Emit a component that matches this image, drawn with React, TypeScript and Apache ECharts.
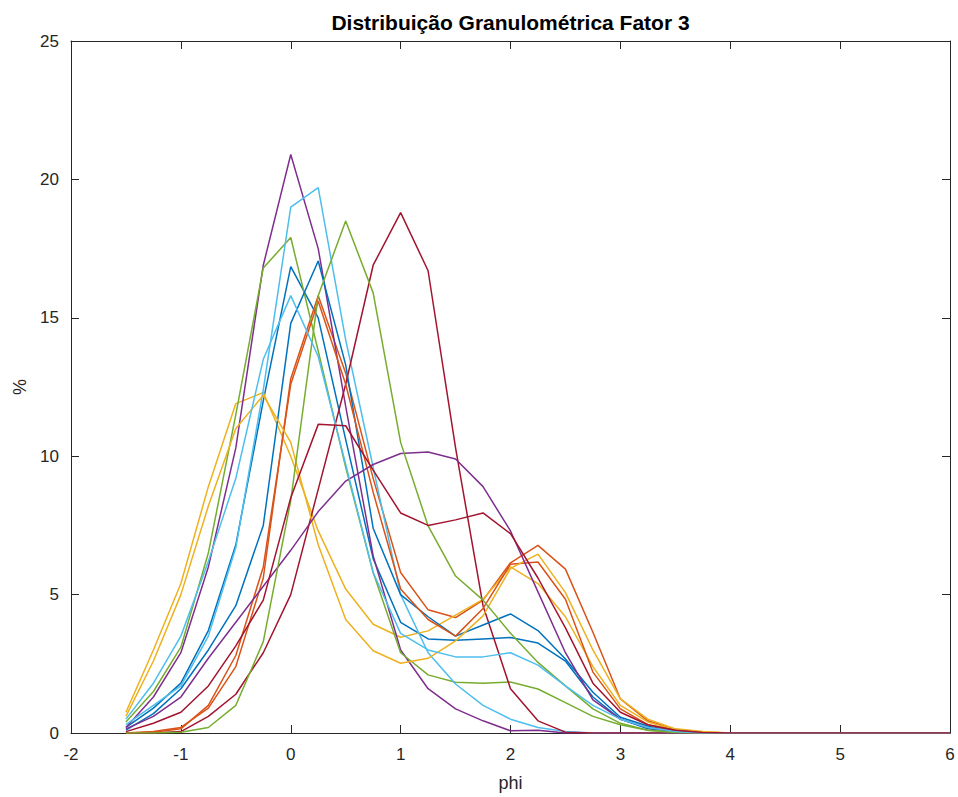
import React, { useEffect, useRef } from "react";
import * as echarts from "echarts";

// phi values of every sample point (-1.5 .. 6, step 0.25)
const phi = [
  -1.5, -1.25, -1, -0.75, -0.5, -0.25, 0, 0.25, 0.5, 0.75, 1, 1.25, 1.5, 1.75, 2, 2.25,
  2.5, 2.75, 3, 3.25, 3.5, 3.75, 4, 4.25, 4.5, 4.75, 5, 5.25, 5.5, 5.75, 6,
];

const xTicks = [-2, -1, 0, 1, 2, 3, 4, 5, 6];
const yTicks = [0, 5, 10, 15, 20, 25];

const s1 = [0.2, 0.9, 1.8, 3.7, 6.8, 12.0, 16.85, 15.0, 10.6, 6.3, 4.0, 3.4, 3.35, 3.4, 3.45, 3.25, 2.6, 1.3, 0.5, 0.15, 0.05, 0, 0, 0, 0, 0, 0, 0, 0, 0, 0];
const s2 = [0, 0.05, 0.2, 0.9, 2.4, 5.6, 12.8, 15.8, 13.0, 9.2, 5.8, 4.45, 4.17, 4.8, 6.15, 6.78, 5.92, 3.64, 1.23, 0.44, 0.13, 0.03, 0, 0, 0, 0, 0, 0, 0, 0, 0];
const s3 = [0.75, 3.0, 5.4, 8.9, 11.9, 12.3, 10.0, 7.3, 5.2, 3.93, 3.46, 3.69, 4.26, 4.83, 6.0, 5.4, 4.2, 2.4, 1.0, 0.4, 0.12, 0.03, 0, 0, 0, 0, 0, 0, 0, 0, 0];
const s4 = [0.2, 1.3, 2.9, 6.0, 10.3, 16.9, 20.9, 17.5, 11.8, 6.4, 3.0, 1.6, 0.87, 0.44, 0.08, 0.1, 0, 0, 0, 0, 0, 0, 0, 0, 0, 0, 0, 0, 0, 0, 0];
const s5 = [0.4, 1.5, 3.1, 6.5, 11.5, 16.8, 17.9, 13.8, 9.6, 5.8, 2.9, 2.1, 1.83, 1.8, 1.84, 1.59, 1.1, 0.6, 0.3, 0.1, 0.03, 0, 0, 0, 0, 0, 0, 0, 0, 0, 0];
const s6 = [0.3, 1.0, 1.7, 3.5, 6.7, 12.4, 19.0, 19.7, 14.2, 9.6, 5.0, 2.9, 1.77, 1.0, 0.5, 0.2, 0.05, 0, 0, 0, 0, 0, 0, 0, 0, 0, 0, 0, 0, 0, 0];
const s7 = [0, 0, 0.05, 0.6, 1.4, 2.9, 5.0, 8.8, 12.6, 16.9, 18.8, 16.7, 10.3, 4.6, 1.6, 0.44, 0.03, 0, 0, 0, 0, 0, 0, 0, 0, 0, 0, 0, 0, 0, 0];
const s8 = [0.1, 0.7, 1.6, 3.0, 4.6, 7.5, 14.8, 17.05, 13.3, 7.4, 5.0, 4.2, 3.5, 3.9, 4.3, 3.7, 2.67, 1.47, 0.57, 0.25, 0.1, 0.02, 0, 0, 0, 0, 0, 0, 0, 0, 0];
const s9 = [0, 0.03, 0.15, 1.0, 2.8, 6.0, 12.6, 15.6, 12.6, 8.7, 5.2, 4.1, 3.5, 4.5, 6.1, 6.18, 4.83, 2.2, 0.87, 0.3, 0.1, 0.02, 0, 0, 0, 0, 0, 0, 0, 0, 0];
const s10 = [0.6, 2.6, 5.0, 8.2, 11.0, 12.2, 10.5, 6.8, 4.1, 2.97, 2.52, 2.7, 3.33, 4.23, 5.95, 6.46, 5.07, 3.0, 1.23, 0.5, 0.15, 0.05, 0, 0, 0, 0, 0, 0, 0, 0, 0];
const s11 = [0.15, 0.6, 1.3, 2.7, 4.0, 5.3, 6.6, 8.0, 9.1, 9.7, 10.1, 10.15, 9.9, 8.9, 7.3, 5.1, 2.9, 1.2, 0.5, 0.2, 0.05, 0, 0, 0, 0, 0, 0, 0, 0, 0, 0];
const s12 = [0, 0, 0.03, 0.2, 1.0, 3.3, 8.4, 15.8, 18.5, 15.9, 10.5, 7.48, 5.67, 4.8, 3.6, 2.55, 1.7, 0.87, 0.35, 0.1, 0.02, 0, 0, 0, 0, 0, 0, 0, 0, 0, 0];
const s13 = [0.5, 1.8, 3.5, 6.2, 9.2, 13.5, 15.8, 13.6, 9.7, 5.8, 3.6, 3.0, 2.75, 2.75, 2.9, 2.45, 1.7, 1.0, 0.5, 0.2, 0.05, 0, 0, 0, 0, 0, 0, 0, 0, 0, 0];
const s14 = [0.05, 0.35, 0.75, 1.7, 3.15, 4.8, 8.5, 11.15, 11.1, 9.5, 7.95, 7.5, 7.7, 7.95, 7.2, 5.6, 3.8, 1.8, 0.75, 0.3, 0.1, 0.02, 0, 0, 0, 0, 0, 0, 0, 0, 0];

const seriesValues = [s1, s2, s3, s4, s5, s6, s7, s8, s9, s10, s11, s12, s13, s14];
const colors = ["#0072BD", "#D95319", "#EDB120", "#7E2F8E", "#77AC30", "#4DBEEE", "#A2142F"];

const titleText = "Distribuição Granulométrica Fator 3";
const xName = "phi";
const yName = "%";

export default function App() {
  const ref = useRef<HTMLDivElement>(null);
  useEffect(() => {
    document.body.style.margin = "0";
    if (!ref.current) return;
    const chart = echarts.init(ref.current, undefined, { renderer: "svg" });
    const axisColor = "#262626";
    const font = "'Liberation Sans', Arial, Helvetica, sans-serif";
    const gridLeft = 71;
    const gridRight = 8;
    const gridTop = 41;
    const gridBottom = 63;
    const baseX = {
      type: "value" as const,
      min: xTicks[0],
      max: xTicks[xTicks.length - 1],
      interval: 1,
      splitLine: { show: false },
      axisLine: { show: true, onZero: false, lineStyle: { color: axisColor, width: 1 } },
      axisTick: { show: true, inside: true, length: 8, lineStyle: { color: axisColor, width: 1 } },
    };
    const baseY = {
      type: "value" as const,
      min: yTicks[0],
      max: yTicks[yTicks.length - 1],
      interval: 5,
      splitLine: { show: false },
      axisLine: { show: true, onZero: false, lineStyle: { color: axisColor, width: 1 } },
      axisTick: { show: true, inside: true, length: 8, lineStyle: { color: axisColor, width: 1 } },
    };
    chart.setOption({
      animation: false,
      backgroundColor: "#ffffff",
      grid: { left: gridLeft, right: gridRight, top: gridTop, bottom: gridBottom, containLabel: false },
      graphic: [
        {
          type: "text",
          x: gridLeft + (958 - gridLeft - gridRight) / 2,
          y: 22,
          style: {
            text: titleText,
            fill: "#000000",
            font: `bold 21px ${font}`,
            textAlign: "center",
            textVerticalAlign: "middle",
          },
        },
      ],
      xAxis: [
        {
          ...baseX,
          position: "bottom",
          axisLabel: { color: axisColor, fontSize: 17, fontFamily: font, margin: 13 },
          name: xName,
          nameLocation: "middle",
          nameGap: 41,
          nameTextStyle: { color: axisColor, fontSize: 18, fontFamily: font },
        },
        { ...baseX, position: "top", axisLabel: { show: false } },
      ],
      yAxis: [
        {
          ...baseY,
          position: "left",
          axisLabel: { color: axisColor, fontSize: 17, fontFamily: font, margin: 12 },
          name: yName,
          nameLocation: "middle",
          nameGap: 42,
          nameRotate: 90,
          nameTextStyle: { color: axisColor, fontSize: 18, fontFamily: font },
        },
        { ...baseY, position: "right", axisLabel: { show: false } },
      ],
      series: seriesValues.map((vals, i) => ({
        type: "line",
        xAxisIndex: 0,
        yAxisIndex: 0,
        data: vals.map((v, j) => [phi[j], v]),
        showSymbol: false,
        symbol: "none",
        lineStyle: { color: colors[i % colors.length], width: 1.5 },
        itemStyle: { color: colors[i % colors.length] },
        clip: true,
      })),
    });
    return () => chart.dispose();
  }, []);
  return <div ref={ref} style={{ position: "fixed", left: 0, top: 0, width: 958, height: 797 }} />;
}
